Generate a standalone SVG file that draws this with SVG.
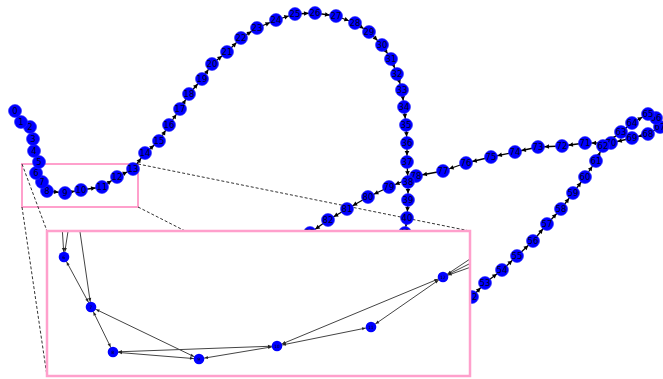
<svg xmlns="http://www.w3.org/2000/svg" width="663" height="379" viewBox="0 0 663 379">
<style>
.e{stroke:#000;stroke-width:1.3;fill:none;marker-end:url(#ah)}
.n circle{fill:#0000ff;stroke:#2a2aff;stroke-width:0.6}
.n text{font-family:"DejaVu Sans",sans-serif;font-size:8.5px;fill:#000020;text-anchor:middle;dominant-baseline:central}
.m circle{fill:#0000ff}
.m text{font-family:"DejaVu Sans",sans-serif;font-size:4.5px;fill:#000;text-anchor:middle;dominant-baseline:central}
.ie{stroke:#444;stroke-width:1;fill:none;marker-end:url(#ai);marker-start:url(#ai)}
.ie1{stroke:#444;stroke-width:1;fill:none;marker-end:url(#ai)}
.d{stroke:#333;stroke-width:1;stroke-dasharray:3 2;fill:none}
.pk{fill:none;stroke:#ffa0cc}
</style>
<defs>
<marker id="ah" viewBox="-12 -3 12 6" markerWidth="12" markerHeight="6" markerUnits="userSpaceOnUse" refX="0" refY="0" orient="auto-start-reverse" overflow="visible"><path d="M-11,-2.3 L-6.6,0 L-11,2.3 z" fill="#000"/></marker>
<marker id="ai" viewBox="-10 -3 10 6" markerWidth="10" markerHeight="6" markerUnits="userSpaceOnUse" refX="0" refY="0" orient="auto-start-reverse" overflow="visible"><path d="M-9,-1.6 L-5.6,0 L-9,1.6 z" fill="#222"/></marker>
<clipPath id="ic"><rect x="47" y="231" width="423" height="145"/></clipPath>
</defs>
<rect width="663" height="379" fill="#fff"/>
<g id="inset-marks">
<rect class="pk" x="22" y="164" width="116" height="43" stroke-width="2"/>
<path class="d" d="M22 164 L47 231"/>
<path class="d" d="M22 207 L47 376"/>
<path class="d" d="M138 164 L470 231"/>
<path class="d" d="M138 207 L470 376"/>
</g>
<g id="edges">
<path class="e" d="M15 111 L21 122"/>
<path class="e" d="M21 122 L30 127"/>
<path class="e" d="M30 127 L33 139"/>
<path class="e" d="M33 139 L34 151"/>
<path class="e" d="M34 151 L39 162"/>
<path class="e" d="M39 162 L36 173"/>
<path class="e" d="M36 173 L42 182"/>
<path class="e" d="M42 182 L47 191"/>
<path class="e" d="M47 191 L65 193"/>
<path class="e" d="M65 193 L81 190"/>
<path class="e" d="M81 190 L102 187"/>
<path class="e" d="M102 187 L117 177"/>
<path class="e" d="M117 177 L133 169"/>
<path class="e" d="M133 169 L145 153"/>
<path class="e" d="M145 153 L159 141"/>
<path class="e" d="M159 141 L169 125"/>
<path class="e" d="M169 125 L180 109"/>
<path class="e" d="M180 109 L189 94"/>
<path class="e" d="M189 94 L202 79"/>
<path class="e" d="M202 79 L212 64"/>
<path class="e" d="M212 64 L227 52"/>
<path class="e" d="M227 52 L241 38"/>
<path class="e" d="M241 38 L257 28"/>
<path class="e" d="M257 28 L276 20"/>
<path class="e" d="M276 20 L295 14"/>
<path class="e" d="M295 14 L315 13"/>
<path class="e" d="M315 13 L336 16"/>
<path class="e" d="M336 16 L355 23"/>
<path class="e" d="M355 23 L369 32"/>
<path class="e" d="M369 32 L382 45"/>
<path class="e" d="M382 45 L391 59"/>
<path class="e" d="M391 59 L397 74"/>
<path class="e" d="M397 74 L402 90"/>
<path class="e" d="M402 90 L404 107"/>
<path class="e" d="M404 107 L406 125"/>
<path class="e" d="M406 125 L407 143"/>
<path class="e" d="M407 143 L407 162"/>
<path class="e" d="M407 162 L408 182"/>
<path class="e" d="M408 182 L408 200"/>
<path class="e" d="M408 200 L407 218"/>
<path class="e" d="M407 218 L405 233"/>
<path class="e" d="M472 297 L485 283"/>
<path class="e" d="M485 283 L502 270"/>
<path class="e" d="M502 270 L517 256"/>
<path class="e" d="M517 256 L533 241"/>
<path class="e" d="M533 241 L547 224"/>
<path class="e" d="M547 224 L561 209"/>
<path class="e" d="M561 209 L573 193"/>
<path class="e" d="M573 193 L585 177"/>
<path class="e" d="M585 177 L596 161"/>
<path class="e" d="M596 161 L603 146"/>
<path class="e" d="M603 146 L621 132"/>
<path class="e" d="M621 132 L632 123"/>
<path class="e" d="M632 123 L648 114"/>
<path class="e" d="M648 114 L656 118"/>
<path class="e" d="M656 118 L660 127"/>
<path class="e" d="M660 127 L648 134"/>
<path class="e" d="M648 134 L632 138"/>
<path class="e" d="M632 138 L611 143"/>
<path class="e" d="M611 143 L585 143"/>
<path class="e" d="M585 143 L562 146"/>
<path class="e" d="M562 146 L538 147"/>
<path class="e" d="M538 147 L515 152"/>
<path class="e" d="M515 152 L491 157"/>
<path class="e" d="M491 157 L466 163"/>
<path class="e" d="M466 163 L443 171"/>
<path class="e" d="M443 171 L416 176"/>
<path class="e" d="M416 176 L389 187"/>
<path class="e" d="M389 187 L368 197"/>
<path class="e" d="M368 197 L347 209"/>
<path class="e" d="M347 209 L328 220"/>
<path class="e" d="M328 220 L310 233"/>
</g>
<g id="nodes">
<g id="n83" class="n"><circle cx="310" cy="233" r="6.5"/><text x="310" y="233">83</text></g>
<g id="n82" class="n"><circle cx="328" cy="220" r="6.5"/><text x="328" y="220">82</text></g>
<g id="n81" class="n"><circle cx="347" cy="209" r="6.5"/><text x="347" y="209">81</text></g>
<g id="n80" class="n"><circle cx="368" cy="197" r="6.5"/><text x="368" y="197">80</text></g>
<g id="n79" class="n"><circle cx="389" cy="187" r="6.5"/><text x="389" y="187">79</text></g>
<g id="n78" class="n"><circle cx="416" cy="176" r="6.5"/><text x="416" y="176">78</text></g>
<g id="n77" class="n"><circle cx="443" cy="171" r="6.5"/><text x="443" y="171">77</text></g>
<g id="n76" class="n"><circle cx="466" cy="163" r="6.5"/><text x="466" y="163">76</text></g>
<g id="n75" class="n"><circle cx="491" cy="157" r="6.5"/><text x="491" y="157">75</text></g>
<g id="n74" class="n"><circle cx="515" cy="152" r="6.5"/><text x="515" y="152">74</text></g>
<g id="n73" class="n"><circle cx="538" cy="147" r="6.5"/><text x="538" y="147">73</text></g>
<g id="n72" class="n"><circle cx="562" cy="146" r="6.5"/><text x="562" y="146">72</text></g>
<g id="n71" class="n"><circle cx="585" cy="143" r="6.5"/><text x="585" y="143">71</text></g>
<g id="n70" class="n"><circle cx="611" cy="143" r="6.5"/><text x="611" y="143">70</text></g>
<g id="n69" class="n"><circle cx="632" cy="138" r="6.5"/><text x="632" y="138">69</text></g>
<g id="n68" class="n"><circle cx="648" cy="134" r="6.5"/><text x="648" y="134">68</text></g>
<g id="n67" class="n"><circle cx="660" cy="127" r="6.5"/><text x="660" y="127">67</text></g>
<g id="n66" class="n"><circle cx="656" cy="118" r="6.5"/><text x="656" y="118">66</text></g>
<g id="n65" class="n"><circle cx="648" cy="114" r="6.5"/><text x="648" y="114">65</text></g>
<g id="n64" class="n"><circle cx="632" cy="123" r="6.5"/><text x="632" y="123">64</text></g>
<g id="n63" class="n"><circle cx="621" cy="132" r="6.5"/><text x="621" y="132">63</text></g>
<g id="n62" class="n"><circle cx="603" cy="146" r="6.5"/><text x="603" y="146">62</text></g>
<g id="n61" class="n"><circle cx="596" cy="161" r="6.5"/><text x="596" y="161">61</text></g>
<g id="n60" class="n"><circle cx="585" cy="177" r="6.5"/><text x="585" y="177">60</text></g>
<g id="n59" class="n"><circle cx="573" cy="193" r="6.5"/><text x="573" y="193">59</text></g>
<g id="n58" class="n"><circle cx="561" cy="209" r="6.5"/><text x="561" y="209">58</text></g>
<g id="n57" class="n"><circle cx="547" cy="224" r="6.5"/><text x="547" y="224">57</text></g>
<g id="n56" class="n"><circle cx="533" cy="241" r="6.5"/><text x="533" y="241">56</text></g>
<g id="n55" class="n"><circle cx="517" cy="256" r="6.5"/><text x="517" y="256">55</text></g>
<g id="n54" class="n"><circle cx="502" cy="270" r="6.5"/><text x="502" y="270">54</text></g>
<g id="n53" class="n"><circle cx="485" cy="283" r="6.5"/><text x="485" y="283">53</text></g>
<g id="n52" class="n"><circle cx="472" cy="297" r="6.5"/><text x="472" y="297">52</text></g>
<g id="n41" class="n"><circle cx="405" cy="233" r="6.5"/><text x="405" y="233">41</text></g>
<g id="n40" class="n"><circle cx="407" cy="218" r="6.5"/><text x="407" y="218">40</text></g>
<g id="n39" class="n"><circle cx="408" cy="200" r="6.5"/><text x="408" y="200">39</text></g>
<g id="n38" class="n"><circle cx="408" cy="182" r="6.5"/><text x="408" y="182">38</text></g>
<g id="n37" class="n"><circle cx="407" cy="162" r="6.5"/><text x="407" y="162">37</text></g>
<g id="n36" class="n"><circle cx="407" cy="143" r="6.5"/><text x="407" y="143">36</text></g>
<g id="n35" class="n"><circle cx="406" cy="125" r="6.5"/><text x="406" y="125">35</text></g>
<g id="n34" class="n"><circle cx="404" cy="107" r="6.5"/><text x="404" y="107">34</text></g>
<g id="n33" class="n"><circle cx="402" cy="90" r="6.5"/><text x="402" y="90">33</text></g>
<g id="n32" class="n"><circle cx="397" cy="74" r="6.5"/><text x="397" y="74">32</text></g>
<g id="n31" class="n"><circle cx="391" cy="59" r="6.5"/><text x="391" y="59">31</text></g>
<g id="n30" class="n"><circle cx="382" cy="45" r="6.5"/><text x="382" y="45">30</text></g>
<g id="n29" class="n"><circle cx="369" cy="32" r="6.5"/><text x="369" y="32">29</text></g>
<g id="n28" class="n"><circle cx="355" cy="23" r="6.5"/><text x="355" y="23">28</text></g>
<g id="n27" class="n"><circle cx="336" cy="16" r="6.5"/><text x="336" y="16">27</text></g>
<g id="n26" class="n"><circle cx="315" cy="13" r="6.5"/><text x="315" y="13">26</text></g>
<g id="n25" class="n"><circle cx="295" cy="14" r="6.5"/><text x="295" y="14">25</text></g>
<g id="n24" class="n"><circle cx="276" cy="20" r="6.5"/><text x="276" y="20">24</text></g>
<g id="n23" class="n"><circle cx="257" cy="28" r="6.5"/><text x="257" y="28">23</text></g>
<g id="n22" class="n"><circle cx="241" cy="38" r="6.5"/><text x="241" y="38">22</text></g>
<g id="n21" class="n"><circle cx="227" cy="52" r="6.5"/><text x="227" y="52">21</text></g>
<g id="n20" class="n"><circle cx="212" cy="64" r="6.5"/><text x="212" y="64">20</text></g>
<g id="n19" class="n"><circle cx="202" cy="79" r="6.5"/><text x="202" y="79">19</text></g>
<g id="n18" class="n"><circle cx="189" cy="94" r="6.5"/><text x="189" y="94">18</text></g>
<g id="n17" class="n"><circle cx="180" cy="109" r="6.5"/><text x="180" y="109">17</text></g>
<g id="n16" class="n"><circle cx="169" cy="125" r="6.5"/><text x="169" y="125">16</text></g>
<g id="n15" class="n"><circle cx="159" cy="141" r="6.5"/><text x="159" y="141">15</text></g>
<g id="n14" class="n"><circle cx="145" cy="153" r="6.5"/><text x="145" y="153">14</text></g>
<g id="n13" class="n"><circle cx="133" cy="169" r="6.5"/><text x="133" y="169">13</text></g>
<g id="n12" class="n"><circle cx="117" cy="177" r="6.5"/><text x="117" y="177">12</text></g>
<g id="n11" class="n"><circle cx="102" cy="187" r="6.5"/><text x="102" y="187">11</text></g>
<g id="n10" class="n"><circle cx="81" cy="190" r="6.5"/><text x="81" y="190">10</text></g>
<g id="n9" class="n"><circle cx="65" cy="193" r="6.5"/><text x="65" y="193">9</text></g>
<g id="n8" class="n"><circle cx="47" cy="191" r="6.5"/><text x="47" y="191">8</text></g>
<g id="n7" class="n"><circle cx="42" cy="182" r="6.5"/><text x="42" y="182">7</text></g>
<g id="n6" class="n"><circle cx="36" cy="173" r="6.5"/><text x="36" y="173">6</text></g>
<g id="n5" class="n"><circle cx="39" cy="162" r="6.5"/><text x="39" y="162">5</text></g>
<g id="n4" class="n"><circle cx="34" cy="151" r="6.5"/><text x="34" y="151">4</text></g>
<g id="n3" class="n"><circle cx="33" cy="139" r="6.5"/><text x="33" y="139">3</text></g>
<g id="n2" class="n"><circle cx="30" cy="127" r="6.5"/><text x="30" y="127">2</text></g>
<g id="n1" class="n"><circle cx="21" cy="122" r="6.5"/><text x="21" y="122">1</text></g>
<g id="n0" class="n"><circle cx="15" cy="111" r="6.5"/><text x="15" y="111">0</text></g>
</g>
<g id="inset">
<rect x="47" y="231" width="423" height="145" fill="#fff"/>
<g clip-path="url(#ic)">
<g id="inset-edges">
<path class="ie1" d="M62 225 L64 257"/>
<path class="ie1" d="M69 225 L64 257"/>
<path class="ie1" d="M79 225 L91 307"/>
<path class="ie" d="M64 257 L91 307"/>
<path class="ie" d="M91 307 L113 352"/>
<path class="ie" d="M91 307 L199 359"/>
<path class="ie" d="M113 352 L199 359"/>
<path class="ie" d="M113 352 L277 346"/>
<path class="ie" d="M199 359 L277 346"/>
<path class="ie" d="M277 346 L371 327"/>
<path class="ie" d="M277 346 L443 277"/>
<path class="ie" d="M371 327 L443 277"/>
<path class="ie" d="M443 277 L485 249"/>
<path class="ie" d="M443 277 L485 256"/>
<path class="ie" d="M443 277 L485 262"/>
</g>
<g id="m6" class="m"><circle cx="64" cy="257" r="5.3"/><text x="64" y="257">6</text></g>
<g id="m7" class="m"><circle cx="91" cy="307" r="5.3"/><text x="91" y="307">7</text></g>
<g id="m8" class="m"><circle cx="113" cy="352" r="5.3"/><text x="113" y="352">8</text></g>
<g id="m9" class="m"><circle cx="199" cy="359" r="5.3"/><text x="199" y="359">9</text></g>
<g id="m10" class="m"><circle cx="277" cy="346" r="5.3"/><text x="277" y="346">10</text></g>
<g id="m11" class="m"><circle cx="371" cy="327" r="5.3"/><text x="371" y="327">11</text></g>
<g id="m12" class="m"><circle cx="443" cy="277" r="5.3"/><text x="443" y="277">12</text></g>
</g>
<rect class="pk" x="47" y="231" width="423" height="145" stroke-width="2.5"/>
</g>
</svg>
